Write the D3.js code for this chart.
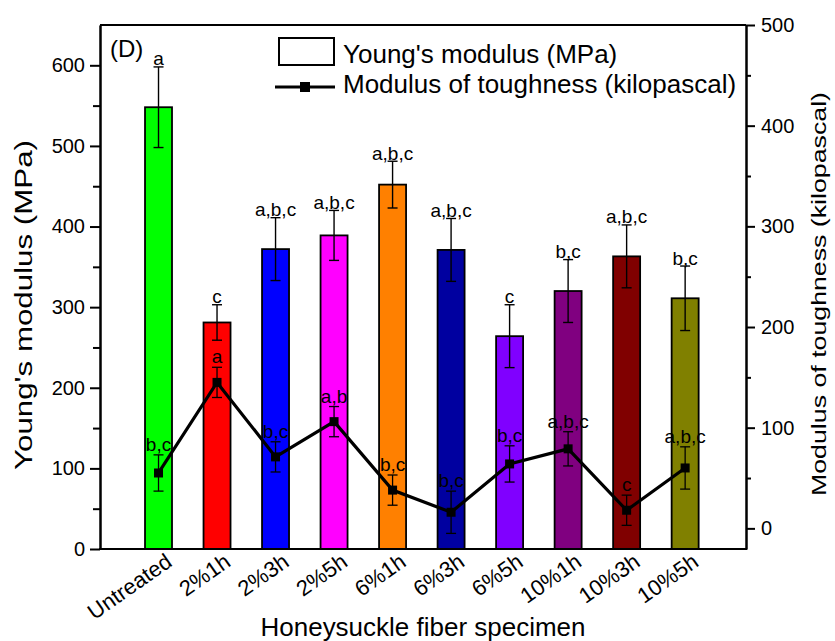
<!DOCTYPE html>
<html>
<head>
<meta charset="utf-8">
<script src="https://cdn.jsdelivr.net/npm/d3@7"></script>
<style>
  body { margin: 0; background: #fff; }
  svg { display: block; font-family: "Liberation Sans", Arial, sans-serif; }
  .axis path, .axis line { stroke: #000; stroke-width: 2; }
  .axis text { fill: #000; font-size: 20px; }
</style>
</head>
<body>
<svg id="chart" width="835" height="641"></svg>
<script>
// specimens on the x axis
const categories = ['Untreated', '2%1h', '2%3h', '2%5h', '6%1h', '6%3h', '6%5h', '10%1h', '10%3h', '10%5h'];

// Young's modulus (MPa), bars, left axis
const youngs = [548, 281, 372, 389, 452, 371, 264, 320, 363, 311];
const youngsErr = [50, 22, 39, 31, 29, 39, 39, 39, 39, 40];
const youngsSig = ['a', 'c', 'a,b,c', 'a,b,c', 'a,b,c', 'a,b,c', 'c', 'b,c', 'a,b,c', 'b,c'];

// Modulus of toughness (kilopascal), line, right axis
const tough = [55, 145, 71, 106, 38, 16, 64, 79, 18, 60];
const toughErr = [18, 15, 15, 15, 15, 21, 18, 17, 15, 21];
const toughSig = ['b,c', 'a', 'b,c', 'a,b', 'b,c', 'b,c', 'b,c', 'a,b,c', 'c', 'a,b,c'];

const barColors = ['#00ff00', '#ff0000', '#0000ff', '#ff00ff', '#ff8000',
                   '#0000a0', '#8000ff', '#800080', '#800000', '#808000'];

const leftTicks = [0, 100, 200, 300, 400, 500, 600];
const rightTicks = [0, 100, 200, 300, 400, 500];

const svg = d3.select('#chart');
const margin = { top: 25, right: 89, bottom: 92, left: 100 };
const W = 835, H = 641;
const x0 = margin.left, x1 = W - margin.right, y0 = H - margin.bottom, y1 = margin.top;

const data = categories.map((c, i) => ({
    name: c, i: i,
    y: youngs[i], ye: youngsErr[i], ys: youngsSig[i],
    t: tough[i], te: toughErr[i], ts: toughSig[i],
    color: barColors[i]
}));

const x = d3.scaleLinear().domain([0, 11.04]).range([x0, x1]);
const yL = d3.scaleLinear().domain([0, 650]).range([y0, y1]);
const yR = d3.scaleLinear().domain([-20.5, 500]).range([y0, y1]);
const pos = d => x(d.i + 1);

const barW = 27, capW = 10;

// bars
svg.append('g').selectAll('rect')
    .data(data)
    .enter().append('rect')
    .attr('x', d => pos(d) - barW / 2)
    .attr('y', d => yL(d.y))
    .attr('width', barW)
    .attr('height', d => y0 - yL(d.y))
    .attr('fill', d => d.color)
    .attr('stroke', '#000')
    .attr('stroke-width', 1.8);

// error bars for bars
const eb = svg.append('g').attr('stroke', '#000').attr('stroke-width', 1.4);
data.forEach(d => {
    const cx = pos(d);
    eb.append('line').attr('x1', cx).attr('x2', cx).attr('y1', yL(d.y + d.ye)).attr('y2', yL(d.y - d.ye));
    eb.append('line').attr('x1', cx - capW / 2).attr('x2', cx + capW / 2).attr('y1', yL(d.y + d.ye)).attr('y2', yL(d.y + d.ye));
    eb.append('line').attr('x1', cx - capW / 2).attr('x2', cx + capW / 2).attr('y1', yL(d.y - d.ye)).attr('y2', yL(d.y - d.ye));
});

svg.append('g').selectAll('text')
    .data(data)
    .enter().append('text')
    .attr('x', d => pos(d))
    .attr('y', d => yL(d.y + d.ye) - 1.5)
    .attr('text-anchor', 'middle')
    .attr('font-size', 19)
    .text(d => d.ys);

// toughness line
const line = d3.line().x(d => pos(d)).y(d => yR(d.t));
svg.append('path')
    .datum(data)
    .attr('d', line)
    .attr('fill', 'none')
    .attr('stroke', '#000')
    .attr('stroke-width', 3.2);

const eb2 = svg.append('g').attr('stroke', '#000').attr('stroke-width', 1.3);
data.forEach(d => {
    const cx = pos(d);
    eb2.append('line').attr('x1', cx).attr('x2', cx).attr('y1', yR(d.t + d.te)).attr('y2', yR(d.t - d.te));
    eb2.append('line').attr('x1', cx - 5).attr('x2', cx + 5).attr('y1', yR(d.t + d.te)).attr('y2', yR(d.t + d.te));
    eb2.append('line').attr('x1', cx - 5).attr('x2', cx + 5).attr('y1', yR(d.t - d.te)).attr('y2', yR(d.t - d.te));
});

svg.append('g').selectAll('rect')
    .data(data)
    .enter().append('rect')
    .attr('x', d => pos(d) - 4.5)
    .attr('y', d => yR(d.t) - 4.5)
    .attr('width', 9)
    .attr('height', 9)
    .attr('fill', '#000');

svg.append('g').selectAll('text')
    .data(data)
    .enter().append('text')
    .attr('x', d => pos(d))
    .attr('y', d => yR(d.t + d.te) - 4)
    .attr('text-anchor', 'middle')
    .attr('font-size', 19)
    .text(d => d.ts);

// axes
const minorL = d3.range(50, 650, 100);
const minorR = d3.range(50, 500, 100);

svg.append('g').attr('class', 'axis')
    .attr('transform', 'translate(' + x0 + ',0)')
    .call(d3.axisLeft(yL).tickValues(leftTicks).tickSize(10).tickSizeOuter(0).tickPadding(5));
svg.append('g').attr('class', 'axis')
    .attr('transform', 'translate(' + x0 + ',0)')
    .call(d3.axisLeft(yL).tickValues(minorL).tickSize(7).tickSizeOuter(0).tickFormat(''));

svg.append('g').attr('class', 'axis')
    .attr('transform', 'translate(' + x1 + ',0)')
    .call(d3.axisRight(yR).tickValues(rightTicks).tickSize(9).tickSizeOuter(0).tickPadding(6));
svg.append('g').attr('class', 'axis')
    .attr('transform', 'translate(' + x1 + ',0)')
    .call(d3.axisRight(yR).tickValues(minorR).tickSize(5).tickSizeOuter(0).tickFormat(''));

// frame top and bottom
svg.append('line').attr('x1', x0).attr('x2', x1).attr('y1', y1).attr('y2', y1).attr('stroke', '#000').attr('stroke-width', 2);
svg.append('line').attr('x1', x0 - 1).attr('x2', x1 + 1).attr('y1', y0).attr('y2', y0).attr('stroke', '#000').attr('stroke-width', 2);

// x category labels
svg.append('g').selectAll('text')
    .data(data)
    .enter().append('text')
    .attr('transform', d => 'translate(' + (pos(d) + 15) + ',565) rotate(-35)')
    .attr('text-anchor', 'end')
    .attr('font-size', 22)
    .text(d => d.name);

// axis titles
svg.append('text')
    .attr('x', (x0 + x1) / 2).attr('y', 636)
    .attr('text-anchor', 'middle')
    .attr('font-size', 25)
    .attr('textLength', 325).attr('lengthAdjust', 'spacingAndGlyphs')
    .text('Honeysuckle fiber specimen');

svg.append('text')
    .attr('transform', 'translate(32,305) rotate(-90)')
    .attr('text-anchor', 'middle')
    .attr('font-size', 23)
    .attr('textLength', 330).attr('lengthAdjust', 'spacingAndGlyphs')
    .text("Young's modulus (MPa)");

svg.append('text')
    .attr('transform', 'translate(826,294) rotate(-90)')
    .attr('text-anchor', 'middle')
    .attr('font-size', 21)
    .attr('textLength', 404).attr('lengthAdjust', 'spacingAndGlyphs')
    .text('Modulus of toughness (kilopascal)');

svg.append('text')
    .attr('x', 110).attr('y', 57)
    .attr('font-size', 24)
    .text('(D)');

// legend
const lg = svg.append('g');
lg.append('rect').attr('x', 279).attr('y', 38).attr('width', 55).attr('height', 27)
    .attr('fill', '#fff').attr('stroke', '#000').attr('stroke-width', 2);
lg.append('text').attr('x', 343).attr('y', 63).attr('font-size', 26).text("Young's modulus (MPa)");
lg.append('line').attr('x1', 275).attr('x2', 335).attr('y1', 87).attr('y2', 87)
    .attr('stroke', '#000').attr('stroke-width', 3.2);
lg.append('rect').attr('x', 300).attr('y', 82).attr('width', 10).attr('height', 10).attr('fill', '#000');
lg.append('text').attr('x', 343).attr('y', 93).attr('font-size', 26).text('Modulus of toughness (kilopascal)');
</script>
</body>
</html>
